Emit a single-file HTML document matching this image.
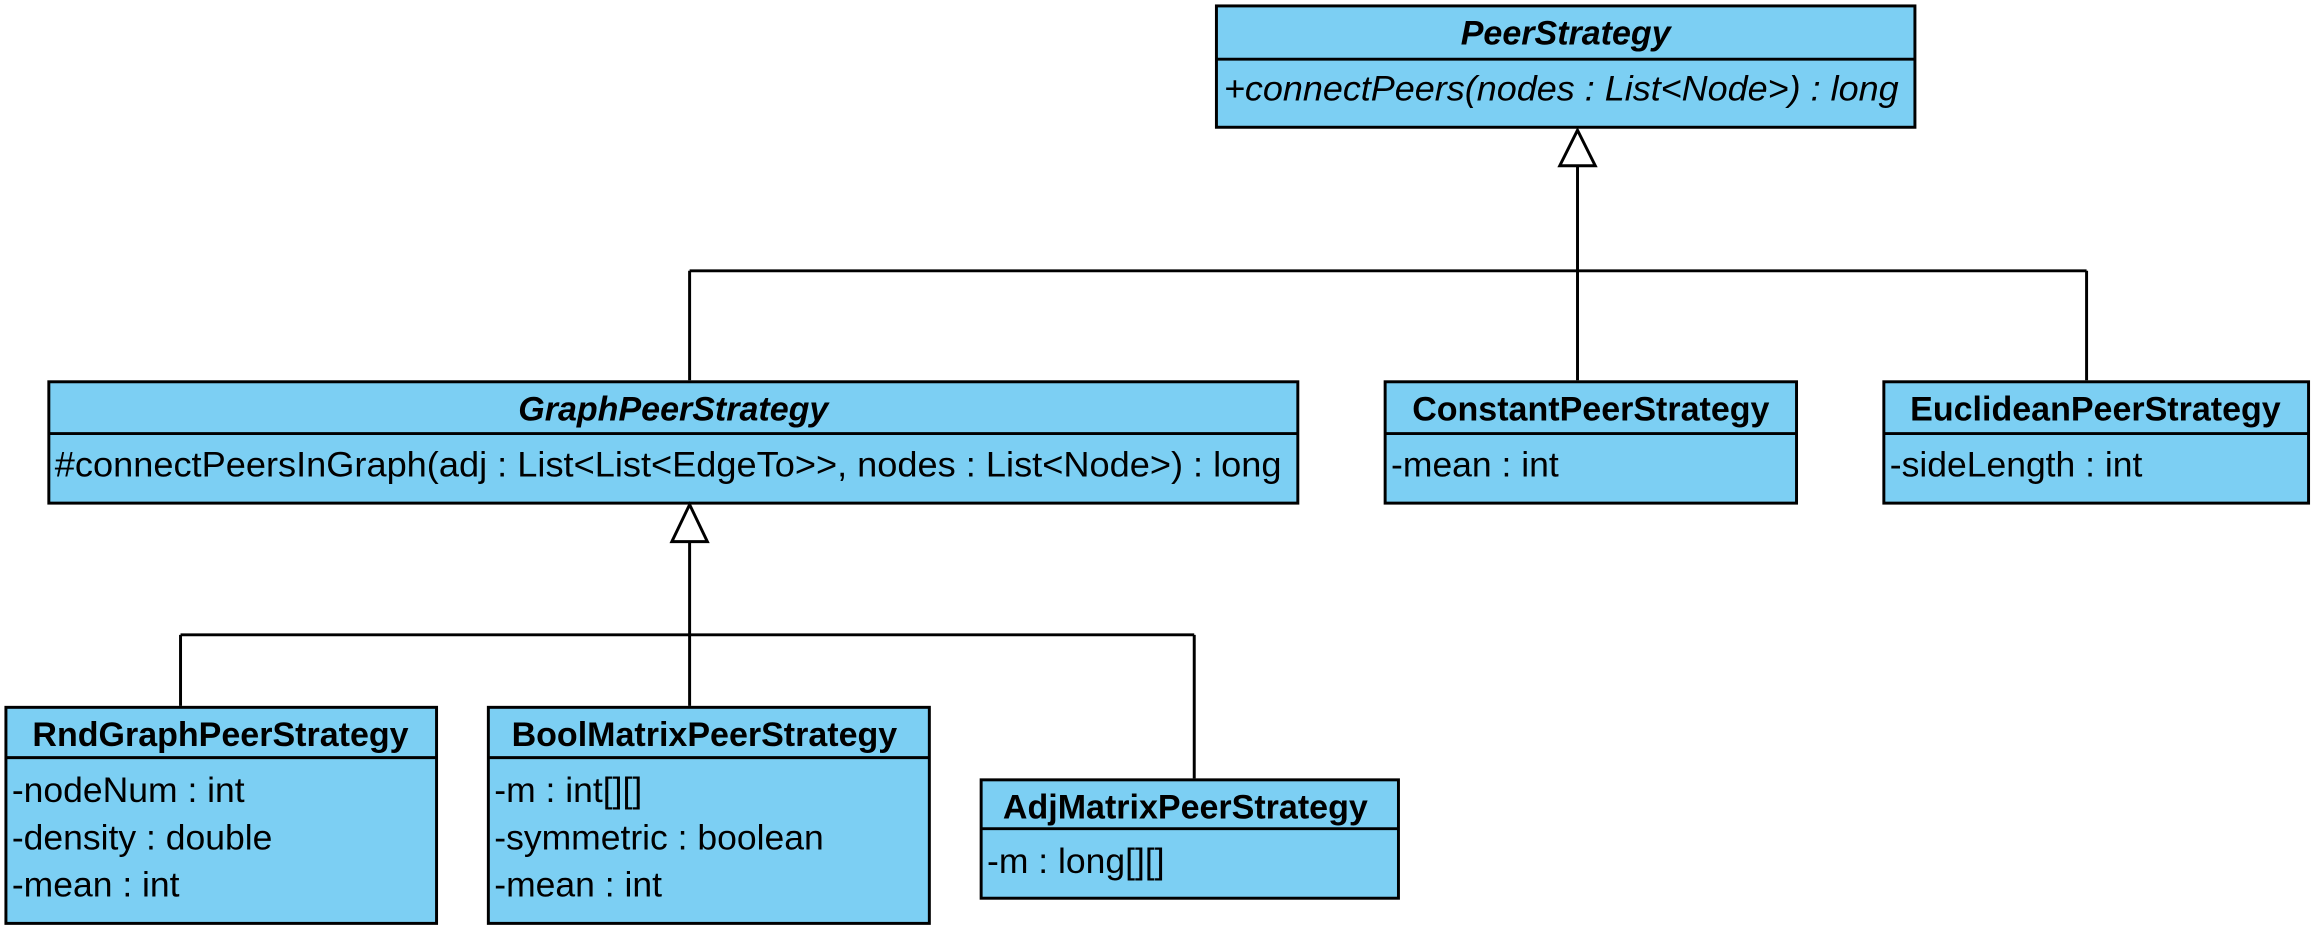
<!DOCTYPE html>
<html><head><meta charset="utf-8"><style>
html,body{margin:0;padding:0;background:#fff;}
svg{display:block;}
text{font-family:"Liberation Sans",Arial,sans-serif;font-size:24px;fill:#000;}
.t{font-weight:bold;text-anchor:middle;font-size:23px;}
.i{font-style:italic;}
</style></head><body>
<svg width="2313" height="933" viewBox="0 0 1563 630.5" preserveAspectRatio="none" xmlns="http://www.w3.org/2000/svg">
<g fill="#7ccff3" stroke="#000" stroke-width="2">
<rect x="822" y="4" width="472" height="82"/>
<rect x="33" y="258" width="844" height="82"/>
<rect x="936" y="258" width="278" height="82"/>
<rect x="1273" y="258" width="287" height="82"/>
<rect x="4" y="478" width="291" height="146"/>
<rect x="330" y="478" width="298" height="146"/>
<rect x="663" y="527" width="282" height="80"/>
</g>
<g stroke="#000" stroke-width="2" fill="none">
<line x1="822" y1="40" x2="1294" y2="40"/>
<line x1="33" y1="293" x2="877" y2="293"/>
<line x1="936" y1="293" x2="1214" y2="293"/>
<line x1="1273" y1="293" x2="1560" y2="293"/>
<line x1="4" y1="512" x2="295" y2="512"/>
<line x1="330" y1="512" x2="628" y2="512"/>
<line x1="663" y1="560" x2="945" y2="560"/>
<line x1="1066" y1="112" x2="1066" y2="257"/>
<line x1="466" y1="183" x2="1410" y2="183"/>
<line x1="466" y1="183" x2="466" y2="257"/>
<line x1="1410" y1="183" x2="1410" y2="257"/>
<line x1="466" y1="366" x2="466" y2="477"/>
<line x1="122" y1="429" x2="807" y2="429"/>
<line x1="122" y1="429" x2="122" y2="477"/>
<line x1="807" y1="429" x2="807" y2="526"/>
</g>
<g stroke="#000" stroke-width="2" fill="#fff">
<polygon points="1066,88 1054,112 1078,112"/>
<polygon points="466,341 454,366 478,366"/>
</g>
<text class="t i" x="1058" y="30">PeerStrategy</text>
<text class="i" x="827" y="68" textLength="456" lengthAdjust="spacingAndGlyphs">+connectPeers(nodes : List&lt;Node&gt;) : long</text>
<text class="t i" x="455" y="284">GraphPeerStrategy</text>
<text x="37" y="322" textLength="829" lengthAdjust="spacingAndGlyphs">#connectPeersInGraph(adj : List&lt;List&lt;EdgeTo&gt;&gt;, nodes : List&lt;Node&gt;) : long</text>
<text class="t" x="1075" y="284">ConstantPeerStrategy</text>
<text x="940" y="322">-mean : int</text>
<text class="t" x="1416" y="284">EuclideanPeerStrategy</text>
<text x="1277" y="322">-sideLength : int</text>
<text class="t" x="149" y="504">RndGraphPeerStrategy</text>
<text x="8" y="542">-nodeNum : int</text>
<text x="8" y="574">-density : double</text>
<text x="8" y="606">-mean : int</text>
<text class="t" x="476" y="504">BoolMatrixPeerStrategy</text>
<text x="334" y="542">-m : int[][]</text>
<text x="334" y="574">-symmetric : boolean</text>
<text x="334" y="606">-mean : int</text>
<text class="t" x="801" y="553">AdjMatrixPeerStrategy</text>
<text x="667" y="590">-m : long[][]</text>
</svg>
</body></html>
